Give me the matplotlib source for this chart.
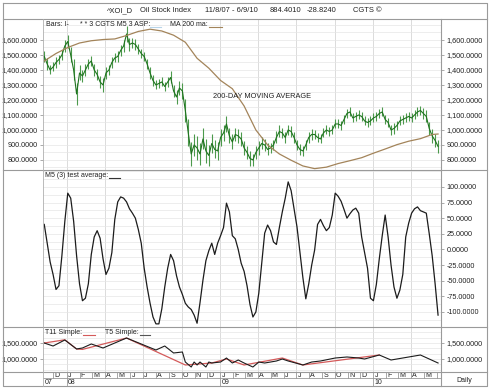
import numpy as np
import pandas as pd
import matplotlib
matplotlib.use('Agg')
import matplotlib.pyplot as plt
import matplotlib.dates as mdates
from matplotlib.lines import Line2D
from matplotlib.ticker import FuncFormatter, MultipleLocator

plt.rcParams['font.family'] = ['Liberation Sans', 'DejaVu Sans']

# ---------------- data ----------------
week_dates = pd.date_range('2007-11-09', periods=135, freq='7D')

close = [1490, 1440, 1400, 1420, 1450, 1470, 1500, 1560, 1590, 1500,
         1400, 1240, 1380, 1360, 1400, 1440, 1460, 1400, 1370, 1320,
         1300, 1380, 1400, 1450, 1480, 1490, 1530, 1560, 1640, 1570,
         1580, 1570, 1540, 1510, 1490, 1440, 1380, 1330, 1300, 1310,
         1320, 1290, 1320, 1350, 1260, 1220, 1280, 1260, 1130, 980,
         840, 900, 880, 840, 940, 860, 830, 910, 870, 860,
         950, 980, 1040, 960, 920, 970, 960, 940, 880, 850,
         810, 800, 850, 880, 910, 900, 870, 880, 900, 950,
         990, 980, 950, 1000, 990, 950, 900, 870, 860, 900,
         950, 970, 970, 950, 940, 980, 1000, 990, 1000, 1040,
         1040, 1030, 1070, 1110, 1120, 1080, 1090, 1100, 1090, 1060,
         1050, 1060, 1080, 1090, 1110, 1120, 1070, 1050, 1000, 1010,
         1030, 1060, 1070, 1080, 1090, 1080, 1100, 1120, 1130, 1110,
         1090, 1010, 960, 930, 890]

# weekly high-low spread of the daily bars
week_range = [70, 80, 60, 60, 70, 60, 70, 80, 90, 100,
              140, 150, 100, 80, 80, 70, 70, 80, 70, 80,
              90, 80, 70, 70, 60, 70, 70, 80, 110, 90,
              70, 70, 70, 60, 60, 70, 80, 70, 60, 60,
              60, 60, 70, 80, 80, 90, 90, 110, 150, 180,
              160, 150, 160, 150, 140, 160, 140, 130, 120, 120,
              110, 110, 110, 100, 100, 90, 90, 90, 90, 90,
              100, 80, 90, 90, 80, 80, 80, 70, 70, 80,
              80, 70, 70, 70, 70, 70, 70, 70, 70, 70,
              70, 70, 60, 60, 60, 60, 60, 60, 60, 60,
              60, 60, 60, 60, 60, 60, 60, 60, 60, 60,
              60, 60, 60, 60, 60, 60, 60, 60, 70, 70,
              60, 60, 60, 60, 60, 60, 60, 60, 60, 70,
              80, 90, 90, 90, 90]

ma_weeks = list(range(0, 135, 4)) + [134]
ma200 = [1460, 1510, 1550, 1580, 1595, 1603, 1607, 1630, 1657, 1672,
         1660, 1632, 1585, 1478, 1412, 1330, 1275, 1160, 1000, 900,
         840, 798, 760, 742, 752, 776, 795, 815, 845, 873,
         902, 925, 942, 970, 973]

osc = [40, 10, -20, -40, -64, -58, -10, 45, 90, 82,
       45, -10, -55, -82, -78, -55, -8, 20, 30, 18,
       -15, -40, -30, -5, 48, 76, 84, 82, 76, 65,
       58, 50, 32, 10, -30, -60, -86, -108, -119, -119,
       -95, -60, -30, -8, -18, -42, -60, -72, -86, -92,
       -96, -105, -118, -85, -49, -18, -2, 10, -8, 10,
       22, 35, 74, 60, 22, 17, 0, -22, -35, -58,
       -88, -108, -100, -70, -22, 26, 39, 30, 12, 8,
       35, 60, 82, 108, 94, 65, 36, -5, -45, -79,
       -55, -25, -1, 40, 48, 38, 30, 35, 55, 90,
       85, 77, 64, 50, 57, 63, 66, 58, 20, -5,
       -30, -78, -82, -56, -15, 22, 55, 20, -25, -60,
       -78, -65, -40, 20, 42, 58, 65, 68, 62, 60,
       58, 25, -10, -55, -105]

t5_weeks = [0, 3, 7, 11, 13, 16, 20, 28, 38, 41,
            44, 47, 48, 50, 51, 52, 53, 55, 56, 57,
            60, 62, 64, 66, 68, 71, 73, 75, 77, 79,
            81, 83, 88, 91, 94, 99, 103, 107, 109, 114,
            118, 128, 134]
t5 = [1500, 1406, 1594, 1313, 1344, 1469, 1344, 1656, 1281, 1406,
      1188, 1219, 906, 750, 906, 813, 906, 750, 906, 875,
      906, 1031, 875, 969, 875, 750, 906, 875, 906, 938,
      1000, 938, 813, 906, 938, 1031, 1063, 1031, 1000, 1125,
      969, 1125, 875]

t11_weeks = [0, 7, 11, 13, 28, 48, 57, 62, 68, 81, 88, 114]
t11 = [1500, 1600, 1313, 1300, 1656, 813, 875, 1000, 813, 1031, 813, 1125]

p1_ticks = [800, 900, 1000, 1100, 1200, 1300, 1400, 1500, 1600]
p2_ticks = [-100, -75, -50, -25, 0, 25, 50, 75, 100]
p3_ticks = [1000, 1500]

title_parts = [('^XOI_D', 107), ('Oil Stock Index', 140), ('11/8/07 - 6/9/10', 205),
               ('884.4010', 270), ('-28.8240', 307), ('CGTS \u00a9', 353)]

# ---------------- layout ----------------
W, H = 490, 390
fig = plt.figure(figsize=(4.9, 3.9), dpi=100)
fig.patch.set_facecolor('white')

def fx(px):
    return px / W

def fy(py):
    return 1 - py / H

L, R = 43, 441

def add_ax(top, bot):
    ax = fig.add_axes([fx(L), fy(bot), (R - L) / W, (bot - top) / H])
    for s in ax.spines.values():
        s.set_visible(False)
    return ax

ax1 = add_ax(19, 170)
ax2 = add_ax(170, 327)
ax3 = add_ax(327, 372)
axm = add_ax(372, 386)

xmin = mdates.date2num(pd.Timestamp('2007-11-06'))
xmax = mdates.date2num(pd.Timestamp('2010-06-11'))
wd = mdates.date2num(week_dates)

txt = '#222222'
gridc = '#e6e6e6'
vgridc = '#d6d6d6'
fmt = FuncFormatter(lambda v, p: f'{v:,.4f}')
quarters = mdates.date2num(pd.date_range('2008-01-01', '2010-06-01', freq='QS'))

for ax, lo, hi, ticks, minor, labl in [(ax1, 733, 1740, p1_ticks, 50, True),
                                      (ax2, -124, 127, p2_ticks, 12.5, False),
                                      (ax3, 594, 2000, p3_ticks, 500 / 3, True)]:
    ax.set_xlim(xmin, xmax)
    ax.set_ylim(lo, hi)
    ax.set_xticks([])
    ax.set_yticks(ticks)
    ax.yaxis.set_minor_locator(MultipleLocator(minor))
    ax.yaxis.set_major_formatter(fmt)
    ax.tick_params(axis='y', which='major', left=labl, right=True, labelleft=labl,
                   labelright=True, length=2, width=0.5, color='#888888',
                   labelsize=5.2, labelcolor=txt, pad=2)
    ax.tick_params(axis='y', which='minor', left=False, right=False)
    ax.grid(axis='y', which='both', color=gridc, lw=0.5)
    for q in quarters:
        ax.axvline(q, color=vgridc, lw=0.6, zorder=0)
    ax.set_axisbelow(True)

# panel 1: price bars + MA
close_a = np.array(close, dtype=float)
rng_a = np.array(week_range, dtype=float)
ax1.vlines(wd, close_a - rng_a / 2, close_a + rng_a / 2, color='#4c9a4c', lw=0.8)
ax1.plot(wd, close, color='#1f731f', lw=0.8)
ax1.plot(wd[ma_weeks], ma200, color='#a3845a', lw=0.9)
ax1.text((213 - L) / (R - L), (170 - 96) / 151, '200-DAY MOVING AVERAGE', transform=ax1.transAxes,
         fontsize=5.3, color=txt, va='center', ha='left')

# panel 2: oscillator
ax2.plot(wd, osc, color='#1c1c1c', lw=0.9)

# panel 3
ax3.plot(wd[t11_weeks], t11, color='#d45a5a', lw=0.9)
ax3.plot(wd[t5_weeks], t5, color='#1c1c1c', lw=0.8)

# month band
axm.set_xlim(xmin, xmax)
axm.set_ylim(14, 0)
axm.set_xticks([])
axm.set_yticks([])
axm.axhline(6, color='#999999', lw=0.6)
months = pd.date_range('2007-12-01', '2010-06-01', freq='MS')
for m in months:
    mx = mdates.date2num(m)
    axm.plot([mx, mx], [0, 6], color='#999999', lw=0.6)
    if mx + 20 < xmax:
        axm.text(mx + 3, 3.2, m.strftime('%b')[0], fontsize=5, color=txt, va='center', ha='left')
axm.text(xmin + 4, 10.2, '07', fontsize=5, color=txt, va='center', ha='left')
for y in ['2008', '2009', '2010']:
    yx = mdates.date2num(pd.Timestamp(y + '-01-01'))
    axm.plot([yx, yx], [6, 14], color='#999999', lw=0.6)
    axm.text(yx + 3, 10.2, y[2:], fontsize=5, color=txt, va='center', ha='left')

# ---------------- frame lines ----------------
lc = '#9a9a9a'

def fline(xs, ys, color=lc, lw=0.8):
    fig.add_artist(Line2D([fx(x) for x in xs], [fy(y) for y in ys],
                          transform=fig.transFigure, color=color, lw=lw))

fline([3, 487, 487, 3, 3], [3, 3, 386, 386, 3])
for yy in [19, 170, 327, 372]:
    fline([3, 487], [yy, yy])
fline([L, L], [19, 386], color='#b0b0b0', lw=0.6)
fline([R, R], [19, 386])

# title
for s, px in title_parts:
    fig.text(fx(px), fy(10.5), s, fontsize=5.4, color=txt, va='center', ha='left')

# legends
def legend(px, py, s):
    fig.text(fx(px), fy(py), s, fontsize=5, color=txt, va='center', ha='left')

legend(46, 24.5, 'Bars: I-')
legend(80, 24.5, '* * 3 CGTS M5 3 ASP:')
fline([150, 161], [27, 27], color='#b8d4e8', lw=0.8)
legend(170, 24.5, 'MA 200 ma:')
fline([209, 222], [27, 27], color='#a3845a', lw=0.8)
legend(45, 176, 'M5 (3) test average:')
fline([109, 120], [178.5, 178.5], color='#333333', lw=0.8)
legend(45, 332.5, 'T11 Simple:')
fline([83, 95], [335, 335], color='#d45a5a', lw=0.8)
legend(105, 332.5, 'T5 Simple:')
fline([140, 150], [335, 335], color='#555555', lw=0.8)

fig.text(fx(464), fy(380), 'Daily', fontsize=5, color=txt, va='center', ha='center')

fig.savefig('out.png', dpi=100, facecolor='white')
